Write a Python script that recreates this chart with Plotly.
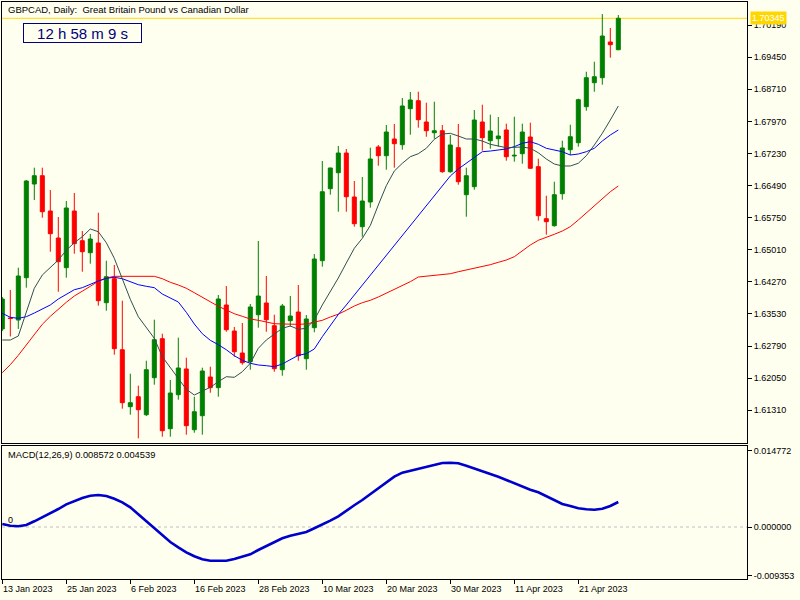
import plotly.graph_objects as go

# GBPCAD daily bars (bar 0 = 13 Jan 2023, last = 28 Apr 2023)
opens = [1.63184, 1.63437, 1.63391, 1.64366, 1.66526, 1.66717, 1.65903, 1.65281, 1.64597, 1.65903,
         1.65219, 1.64942, 1.65166, 1.63790, 1.64343, 1.62706, 1.61393, 1.61623, 1.61208, 1.62061,
         1.62960, 1.60886, 1.61669, 1.62262, 1.60862, 1.61185, 1.62077, 1.61831, 1.63737, 1.63137,
         1.62630, 1.62430, 1.63513, 1.63783, 1.63260, 1.62245, 1.63375, 1.63575, 1.62499, 1.63214,
         1.64758, 1.66418, 1.66786, 1.67240, 1.66226, 1.65542, 1.66111, 1.67379, 1.67178, 1.67563,
         1.67432, 1.68262, 1.68446, 1.67955, 1.67708, 1.67754, 1.66809, 1.67363, 1.66279, 1.66464,
         1.67955, 1.67524, 1.67570, 1.67771, 1.67171, 1.67224, 1.67609, 1.66925, 1.65726, 1.65565,
         1.66302, 1.67316, 1.67478, 1.68308, 1.68861, 1.68976, 1.69799, 1.69621]
highs = [1.63921, 1.64083, 1.64597, 1.66618, 1.66902, 1.66902, 1.66388, 1.65765, 1.66134, 1.66318,
         1.65442, 1.65373, 1.65864, 1.64758, 1.64659, 1.63836, 1.62153, 1.61877, 1.62453, 1.63398,
         1.63075, 1.62008, 1.62983, 1.62522, 1.61623, 1.62292, 1.62315, 1.63967, 1.64175, 1.63230,
         1.63322, 1.63760, 1.65212, 1.64405, 1.63513, 1.63760, 1.63944, 1.64198, 1.63506, 1.64912,
         1.67056, 1.66902, 1.67402, 1.67333, 1.66595, 1.66687, 1.67363, 1.67425, 1.67886, 1.67909,
         1.68508, 1.68646, 1.68653, 1.68400, 1.68423, 1.67886, 1.67655, 1.67909, 1.66902, 1.68232,
         1.68354, 1.68123, 1.68070, 1.67916, 1.68077, 1.67916, 1.67939, 1.67109, 1.66256, 1.66579,
         1.67524, 1.67893, 1.68492, 1.69114, 1.69345, 1.70444, 1.70122, 1.70421]
lows = [1.63137, 1.63011, 1.63184, 1.64136, 1.66157, 1.65749, 1.64965, 1.64043, 1.64366, 1.64919,
        1.64504, 1.64689, 1.63721, 1.63605, 1.62591, 1.61347, 1.61208, 1.60664, 1.61178, 1.61900,
        1.60701, 1.60701, 1.61554, 1.60747, 1.60793, 1.60747, 1.61715, 1.61623, 1.63121, 1.62545,
        1.62361, 1.62245, 1.63214, 1.63121, 1.62199, 1.62107, 1.63237, 1.62453, 1.62245, 1.63108,
        1.64620, 1.66279, 1.65887, 1.65887, 1.65542, 1.65311, 1.65980, 1.66948, 1.66855, 1.66902,
        1.67316, 1.67662, 1.67824, 1.67616, 1.67570, 1.66786, 1.66786, 1.66510, 1.65772, 1.66394,
        1.67293, 1.67340, 1.67386, 1.67063, 1.67040, 1.66994, 1.66879, 1.65680, 1.65357, 1.65542,
        1.66164, 1.67194, 1.67386, 1.68215, 1.68653, 1.68815, 1.69437, 1.69610]
closes = [1.63875, 1.63426, 1.64405, 1.66595, 1.66717, 1.65887, 1.65380, 1.64735, 1.65973, 1.65150,
          1.64965, 1.65258, 1.63836, 1.64389, 1.62730, 1.61485, 1.61485, 1.61323, 1.62245, 1.62937,
          1.60839, 1.61708, 1.62285, 1.60955, 1.61277, 1.62215, 1.61831, 1.63875, 1.63167, 1.62660,
          1.62407, 1.63691, 1.63944, 1.63398, 1.62269, 1.63714, 1.63483, 1.62568, 1.63414, 1.64797,
          1.66348, 1.66895, 1.67240, 1.66233, 1.65611, 1.66134, 1.67102, 1.67178, 1.67724, 1.67455,
          1.68324, 1.68462, 1.68008, 1.67754, 1.67754, 1.66809, 1.67425, 1.66579, 1.66717, 1.68001,
          1.67593, 1.67747, 1.67632, 1.67155, 1.67187, 1.67724, 1.66888, 1.65795, 1.65657, 1.66279,
          1.67356, 1.67616, 1.68469, 1.68976, 1.68999, 1.69937, 1.69737, 1.70345]

# moving averages (fast = dark grey, middle = blue, slow = red)
ma_fast = [1.62930, 1.62930, 1.63022, 1.63559, 1.64122, 1.64428, 1.64597, 1.64774, 1.64998, 1.65173,
           1.65311, 1.65489, 1.65426, 1.65173, 1.64813, 1.64336, 1.63868, 1.63467, 1.63207, 1.62969,
           1.62545, 1.62292, 1.62047, 1.61794, 1.61662, 1.61748, 1.61840, 1.61969, 1.62084, 1.62070,
           1.62199, 1.62393, 1.62739, 1.62930, 1.63061, 1.63200, 1.63253, 1.63177, 1.63200, 1.63391,
           1.63737, 1.64036, 1.64359, 1.64705, 1.65044, 1.65274, 1.65569, 1.66042, 1.66487, 1.66825,
           1.67003, 1.67155, 1.67224, 1.67349, 1.67556, 1.67678, 1.67694, 1.67632, 1.67563, 1.67563,
           1.67517, 1.67441, 1.67409, 1.67363, 1.67372, 1.67379, 1.67349, 1.67247, 1.67102, 1.66987,
           1.66941, 1.66941, 1.67003, 1.67178, 1.67425, 1.67694, 1.68001, 1.68324]
ma_mid = [1.63545, 1.63453, 1.63430, 1.63467, 1.63552, 1.63645, 1.63737, 1.63875, 1.63974, 1.64089,
          1.64136, 1.64221, 1.64290, 1.64352, 1.64375, 1.64343, 1.64267, 1.64205, 1.64168, 1.64136,
          1.63990, 1.63898, 1.63806, 1.63568, 1.63299, 1.63075, 1.62923, 1.62822, 1.62706, 1.62568,
          1.62462, 1.62393, 1.62354, 1.62338, 1.62315, 1.62377, 1.62485, 1.62577, 1.62614, 1.62723,
          1.63006, 1.63276, 1.63518, 1.63737, 1.63967, 1.64198, 1.64428, 1.64659, 1.64889, 1.65120,
          1.65350, 1.65581, 1.65811, 1.66042, 1.66272, 1.66503, 1.66710, 1.66872, 1.67010, 1.67148,
          1.67270, 1.67286, 1.67310, 1.67333, 1.67386, 1.67464, 1.67501, 1.67441, 1.67349, 1.67310,
          1.67270, 1.67194, 1.67217, 1.67270, 1.67349, 1.67517, 1.67655, 1.67771]
ma_slow = [1.62176, 1.62361, 1.62577, 1.62815, 1.63068, 1.63292, 1.63476, 1.63645, 1.63799, 1.63944,
           1.64066, 1.64168, 1.64283, 1.64359, 1.64398, 1.64398, 1.64398, 1.64398, 1.64405, 1.64398,
           1.64343, 1.64260, 1.64198, 1.64122, 1.64020, 1.63914, 1.63822, 1.63707, 1.63621, 1.63536,
           1.63476, 1.63414, 1.63384, 1.63338, 1.63306, 1.63299, 1.63292, 1.63292, 1.63299, 1.63338,
           1.63384, 1.63460, 1.63525, 1.63615, 1.63714, 1.63790, 1.63845, 1.63921, 1.64006, 1.64099,
           1.64193, 1.64274, 1.64382, 1.64401, 1.64412, 1.64424, 1.64458, 1.64504, 1.64544, 1.64583,
           1.64636, 1.64666, 1.64721, 1.64774, 1.64850, 1.64988, 1.65120, 1.65228, 1.65288, 1.65366,
           1.65442, 1.65542, 1.65696, 1.65864, 1.66019, 1.66180, 1.66348, 1.66480]

macd = [0.00058, 0.00025, 0.00014, 0.00039, 0.00110, 0.00187, 0.00264, 0.00347, 0.00438, 0.00502,
        0.00560, 0.00604, 0.00618, 0.00598, 0.00546, 0.00477, 0.00380, 0.00245, 0.00110, -0.00025,
        -0.00160, -0.00290, -0.00392, -0.00488, -0.00565, -0.00623, -0.00650, -0.00650, -0.00650, -0.00618,
        -0.00565, -0.00527, -0.00444, -0.00367, -0.00290, -0.00218, -0.00168, -0.00129, -0.00097, -0.00025,
        0.00044, 0.00122, 0.00207, 0.00322, 0.00419, 0.00521, 0.00637, 0.00753, 0.00863, 0.00971,
        0.01048, 0.01087, 0.01133, 0.01172, 0.01210, 0.01235, 0.01241, 0.01229, 0.01183, 0.01133,
        0.01081, 0.01023, 0.00971, 0.00907, 0.00843, 0.00772, 0.00720, 0.00670, 0.00593, 0.00521,
        0.00444, 0.00405, 0.00361, 0.00342, 0.00334, 0.00353, 0.00405, 0.00483]

bid = 1.70345
price_ticks = [1.61310, 1.62050, 1.62790, 1.63530, 1.64270, 1.65010, 1.65750,
               1.66490, 1.67230, 1.67970, 1.68710, 1.69450, 1.70190]
macd_ticks = [0.014772, 0.0, -0.009353]
date_labels = ["13 Jan 2023", "25 Jan 2023", "6 Feb 2023", "16 Feb 2023", "28 Feb 2023",
               "10 Mar 2023", "20 Mar 2023", "30 Mar 2023", "11 Apr 2023", "21 Apr 2023"]
date_label_bars = [0, 8, 16, 24, 32, 40, 48, 56, 64, 72]

bars = list(range(len(closes)))

W, H = 800, 600
ML, MR, MT, MB = 2, 53, 2, 21
BG = "#FFFFF0"
FONT = "Liberation Sans, Arial, sans-serif"


def px_x(px):
    return (px - ML) / (W - ML - MR)


def px_y(py):
    return (H - MB - py) / (H - MT - MB)


fig = go.Figure()

fig.add_trace(go.Candlestick(
    x=bars, open=opens, high=highs, low=lows, close=closes,
    increasing=dict(line=dict(color="#008000", width=1), fillcolor="#008000"),
    decreasing=dict(line=dict(color="#FF0000", width=1), fillcolor="#FF0000"),
    whiskerwidth=0, showlegend=False, hoverinfo="skip",
    xaxis="x", yaxis="y"
))

for vals, col in [(ma_slow, "#FF0000"), (ma_mid, "#0000FF"), (ma_fast, "#2F4F4F")]:
    fig.add_trace(go.Scatter(
        x=bars, y=vals, mode="lines",
        line=dict(color=col, width=1),
        showlegend=False, hoverinfo="skip",
        xaxis="x", yaxis="y"
    ))

fig.add_trace(go.Scatter(
    x=bars, y=macd, mode="lines",
    line=dict(color="#0000CD", width=2.6),
    showlegend=False, hoverinfo="skip",
    xaxis="x2", yaxis="y2"
))

xrange = [-0.0375, 93.0875]
axis_common = dict(showline=True, mirror=True, linecolor="black", linewidth=1,
                   showgrid=False, zeroline=False)

fig.update_layout(
    width=W, height=H,
    margin=dict(l=ML, r=MR, t=MT, b=MB),
    paper_bgcolor=BG, plot_bgcolor=BG,
    font=dict(family=FONT, size=9, color="black"),
    boxgap=0.5, boxgroupgap=0,
    xaxis=dict(domain=[0, 1], range=xrange, anchor="y", showticklabels=False,
               ticks="", rangeslider=dict(visible=False), **axis_common),
    yaxis=dict(domain=[px_y(443.3), 1], range=[1.60549, 1.70721], side="right",
               tickvals=price_ticks, ticktext=["%.5f" % v for v in price_ticks],
               ticks="outside", ticklen=4, tickcolor="black",
               tickfont=dict(size=9), **axis_common),
    xaxis2=dict(domain=[0, 1], range=xrange, anchor="y2", showticklabels=False,
                tickvals=date_label_bars, ticks="outside", ticklen=4, tickcolor="black",
                **axis_common),
    yaxis2=dict(domain=[0, px_y(445.7)], range=[-0.010036, 0.015691], side="right",
                tickvals=macd_ticks, ticktext=["%.6f" % v for v in macd_ticks],
                ticks="outside", ticklen=4, tickcolor="black",
                tickfont=dict(size=9), **axis_common),
)

# bid line and zero line
fig.add_shape(type="line", xref="x domain", x0=0, x1=1, yref="y", y0=bid, y1=bid,
              line=dict(color="#FFD700", width=1), layer="below")
fig.add_shape(type="line", xref="x2 domain", x0=0, x1=1, yref="y2", y0=0, y1=0,
              line=dict(color="#C0C0C0", width=1, dash="3px,3px"), layer="below")

ann = []
ann.append(dict(xref="paper", yref="paper", x=px_x(6), y=px_y(10), xanchor="left",
                yanchor="middle", showarrow=False, font=dict(size=9.5),
                text="GBPCAD, Daily:  Great Britain Pound vs Canadian Dollar"))
ann.append(dict(xref="paper", yref="paper", x=px_x(82.8), y=px_y(33), xanchor="center",
                yanchor="middle", showarrow=False, font=dict(size=15, color="#000080"),
                text="12 h 58 m 9 s", bordercolor="#000080", borderwidth=1,
                borderpad=1, bgcolor=BG, width=115, height=16))
ann.append(dict(xref="paper", yref="y", x=1, y=bid, xanchor="left", yanchor="middle",
                xshift=3, showarrow=False, font=dict(size=9, color="white"),
                text="%.5f" % bid, bgcolor="#FFD700", borderpad=1))
ann.append(dict(xref="paper", yref="paper", x=px_x(6), y=px_y(455), xanchor="left",
                yanchor="middle", showarrow=False, font=dict(size=9.3),
                text="MACD(12,26,9) 0.008572 0.004539"))
ann.append(dict(xref="paper", yref="y2", x=px_x(6), y=0, xanchor="left",
                yanchor="bottom", showarrow=False, font=dict(size=9), text="0"))
for b, lab in zip(date_label_bars, date_labels):
    ann.append(dict(xref="x2", yref="paper", x=b, y=px_y(588.5), xanchor="left",
                    yanchor="middle", showarrow=False, font=dict(size=9), text=lab,
                    xshift=-1))
fig.update_layout(annotations=ann)

# the page's default 8px body margin would shift the whole chart
fig.write_html("out.html", config={"displayModeBar": False},
               post_script="document.body.style.margin='0';")
